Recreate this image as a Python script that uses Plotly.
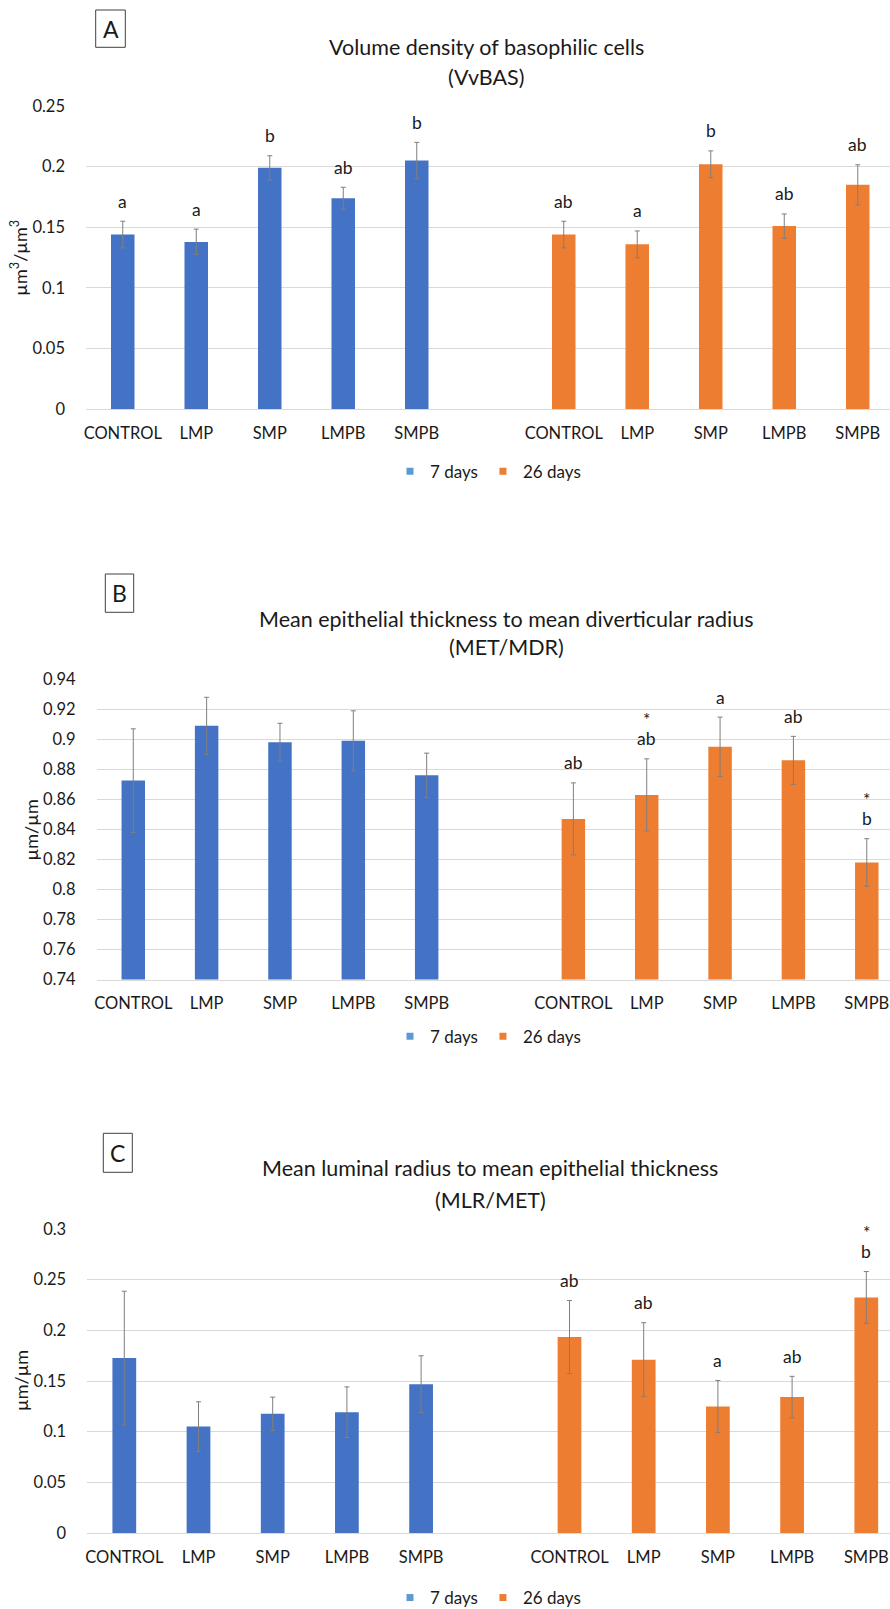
import plotly.graph_objects as go

# ---- data ----------------------------------------------------------------
groups = ["CONTROL", "LMP", "SMP", "LMPB", "SMPB"]
series_names = ["7 days", "26 days"]

# A: volume density of basophilic cells (VvBAS)
vv_7 = [0.144, 0.138, 0.199, 0.174, 0.205]
vv_7_err = [0.011, 0.0105, 0.010, 0.009, 0.015]
vv_26 = [0.144, 0.136, 0.202, 0.151, 0.185]
vv_26_err = [0.011, 0.011, 0.011, 0.010, 0.0165]
vv_7_sig = ["a", "a", "b", "ab", "b"]
vv_26_sig = ["ab", "a", "b", "ab", "ab"]

# B: mean epithelial thickness / mean diverticular radius (MET/MDR)
mdr_7 = [0.8725, 0.909, 0.898, 0.899, 0.876]
mdr_7_err = [0.0345, 0.019, 0.0127, 0.020, 0.0148]
mdr_26 = [0.847, 0.863, 0.895, 0.886, 0.818]
mdr_26_err = [0.024, 0.024, 0.0198, 0.016, 0.0158]
mdr_7_sig = ["", "", "", "", ""]
mdr_26_sig = ["ab", "*<br>ab", "a", "ab", "*<br>b"]

# C: mean luminal radius / mean epithelial thickness (MLR/MET)
mlr_7 = [0.1726, 0.105, 0.1176, 0.1192, 0.1469]
mlr_7_err = [0.066, 0.0245, 0.0165, 0.025, 0.028]
mlr_26 = [0.1934, 0.171, 0.1248, 0.1341, 0.2325]
mlr_26_err = [0.036, 0.0365, 0.0257, 0.0205, 0.0255]
mlr_7_sig = ["", "", "", "", ""]
mlr_26_sig = ["ab", "ab", "a", "ab", "*<br>b"]

# ---- styling -------------------------------------------------------------
W, H = 890, 1609
FONT = "Lato, 'Open Sans', sans-serif"
TXT = "#1a1a1a"
BLUE, ORANGE = "#4472C4", "#ED7D31"
LEG_BLUE = "#5B9BD5"
GRID = "#D9D9D9"
TICK_FS = 16.5
SIG_FS = 17.5
TITLE_FS = 21.5
LEG_FS = 17
YT_FS = 18


def px_x(x):
    return x / W


def px_y(y):
    return 1 - y / H


# slot positions: 5 groups, one empty slot, 5 groups
x_7 = list(range(len(groups)))
x_26 = [len(groups) + 1 + i for i in range(len(groups))]
tick_pos = x_7 + x_26
tick_txt = groups + groups

panels = [
    dict(key="", v7=vv_7, e7=vv_7_err, v26=vv_26, e26=vv_26_err,
         s7=vv_7_sig, s26=vv_26_sig,
         title="Volume density of basophilic cells", sub="(VvBAS)",
         ytitle="µm<sup>3</sup>/µm<sup>3</sup>", letter="A",
         yrange=[0, 0.25], dtick=0.05,
         top=106, bottom=409.3, left=86.0, slot=73.5,
         title_x=486, title_y=(46.7, 76.7), ytitle_x=19,
         box=(95.7, 10, 125.3, 47.3), legend_y=471.7),
    dict(key="2", v7=mdr_7, e7=mdr_7_err, v26=mdr_26, e26=mdr_26_err,
         s7=mdr_7_sig, s26=mdr_26_sig,
         title="Mean epithelial thickness to mean diverticular radius", sub="(MET/MDR)",
         ytitle="µm/µm", letter="B",
         yrange=[0.74, 0.94], dtick=0.02,
         top=679.3, bottom=979.5, left=96.6, slot=73.35,
         title_x=506, title_y=(619.3, 647.3), ytitle_x=31,
         box=(105.3, 574, 133.7, 612.3), legend_y=1036.7),
    dict(key="3", v7=mlr_7, e7=mlr_7_err, v26=mlr_26, e26=mlr_26_err,
         s7=mlr_7_sig, s26=mlr_26_sig,
         title="Mean luminal radius to mean epithelial thickness", sub="(MLR/MET)",
         ytitle="µm/µm", letter="C",
         yrange=[0, 0.3], dtick=0.05,
         top=1229, bottom=1533, left=87.2, slot=74.2,
         title_x=490, title_y=(1167.7, 1200), ytitle_x=21,
         box=(103.3, 1133.3, 132.3, 1172.3), legend_y=1598),
]

fig = go.Figure()
annotations = []
shapes = []
layout_axes = {}

for p in panels:
    k = p["key"]
    xa, ya = "x" + k, "y" + k
    leg = "legend" + k

    err_style = dict(type="data", thickness=1, width=2.5, color="#7F7F7F")
    fig.add_trace(go.Bar(
        x=x_7, y=p["v7"], xaxis=xa, yaxis=ya, width=0.32,
        marker=dict(color=BLUE, line=dict(width=0)),
        error_y=dict(array=p["e7"], **err_style),
        name=series_names[0], showlegend=False, hoverinfo="skip"))
    fig.add_trace(go.Bar(
        x=x_26, y=p["v26"], xaxis=xa, yaxis=ya, width=0.32,
        marker=dict(color=ORANGE, line=dict(width=0)),
        error_y=dict(array=p["e26"], **err_style),
        name=series_names[1], showlegend=False, hoverinfo="skip"))

    # legend entries with small square keys
    for nm, col in zip(series_names, [LEG_BLUE, ORANGE]):
        fig.add_trace(go.Scatter(
            x=[None], y=[None], xaxis=xa, yaxis=ya, mode="markers",
            marker=dict(symbol="square", size=7, color=col),
            name=nm, legend=leg, showlegend=True))

    # significance letters above the error bars (stacked lines, bottom-up)
    for xs, vals, errs, sigs in ((x_7, p["v7"], p["e7"], p["s7"]),
                                 (x_26, p["v26"], p["e26"], p["s26"])):
        for xi, v, e, s in zip(xs, vals, errs, sigs):
            if not s:
                continue
            for j, line in enumerate(reversed(s.split("<br>"))):
                annotations.append(dict(
                    x=xi, y=v + e, xref=xa, yref=ya, text=line,
                    showarrow=False, yanchor="middle", yshift=20 + 19 * j,
                    font=dict(family=FONT, size=SIG_FS, color=TXT)))

    x_end = -0.5 + (W - p["left"]) / p["slot"]
    layout_axes["xaxis" + k] = dict(
        domain=[px_x(p["left"]), 1], range=[-0.5, x_end], anchor=ya,
        tickmode="array", tickvals=tick_pos, ticktext=tick_txt,
        showgrid=False, zeroline=False, showline=True, linecolor=GRID,
        linewidth=1, ticks="", ticklabelstandoff=9,
        tickfont=dict(family=FONT, size=TICK_FS, color=TXT), fixedrange=True)
    layout_axes["yaxis" + k] = dict(
        domain=[px_y(p["bottom"]), px_y(p["top"])], range=p["yrange"],
        anchor=xa, dtick=p["dtick"], showgrid=True, gridcolor=GRID,
        gridwidth=1, zeroline=True, zerolinecolor=GRID, zerolinewidth=1,
        showline=False, ticks="", ticklabelstandoff=20,
        tickfont=dict(family=FONT, size=TICK_FS, color=TXT), fixedrange=True)

    # chart title (two lines)
    for txt, ty in zip((p["title"], p["sub"]), p["title_y"]):
        annotations.append(dict(
            x=px_x(p["title_x"]), y=px_y(ty), xref="paper", yref="paper",
            text=txt, showarrow=False, xanchor="center", yanchor="middle",
            font=dict(family=FONT, size=TITLE_FS, color=TXT)))

    # y-axis title
    annotations.append(dict(
        x=px_x(p["ytitle_x"]), y=px_y((p["top"] + p["bottom"]) / 2),
        xref="paper", yref="paper", text=p["ytitle"], textangle=-90,
        showarrow=False, xanchor="center", yanchor="middle",
        font=dict(family=FONT, size=YT_FS, color=TXT)))

    # panel letter in a box
    x0, y0, x1, y1 = p["box"]
    shapes.append(dict(type="rect", xref="paper", yref="paper",
                       x0=px_x(x0), x1=px_x(x1), y0=px_y(y1), y1=px_y(y0),
                       line=dict(color="#404040", width=1)))
    annotations.append(dict(
        x=px_x((x0 + x1) / 2), y=px_y((y0 + y1) / 2), xref="paper", yref="paper",
        text=p["letter"], showarrow=False, xanchor="center", yanchor="middle",
        font=dict(family=FONT, size=23, color=TXT)))

    layout_axes[leg] = dict(
        orientation="h", x=px_x(488), xanchor="center",
        y=px_y(p["legend_y"]), yanchor="middle",
        font=dict(family=FONT, size=LEG_FS, color=TXT),
        bgcolor="rgba(0,0,0,0)", itemclick=False, itemdoubleclick=False)

fig.update_layout(
    width=W, height=H,
    margin=dict(l=0, r=0, t=0, b=0, autoexpand=False),
    paper_bgcolor="white", plot_bgcolor="white",
    barmode="overlay", annotations=annotations, shapes=shapes,
    **layout_axes)

fig.write_html("out.html")
